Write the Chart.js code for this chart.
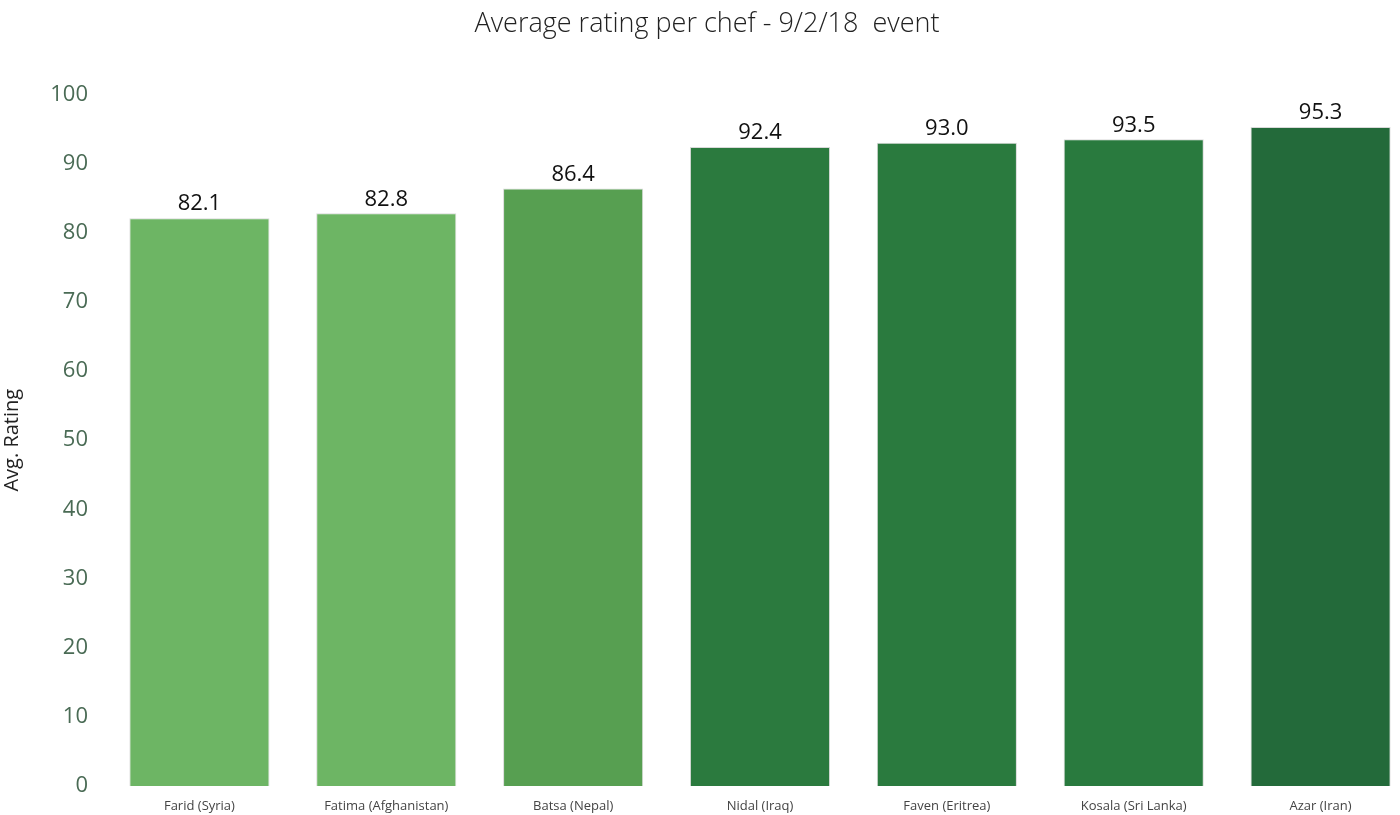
<!DOCTYPE html>
<html><head><meta charset="utf-8">
<script src="https://cdn.jsdelivr.net/npm/chart.js@4"></script>
<style>html,body{margin:0;padding:0;overflow:hidden;background:#fff}#w{width:1414px;height:815px}</style>
</head><body><div id="w"><canvas id="c"></canvas></div>
<script>
const chefs = ["Farid (Syria)","Fatima (Afghanistan)","Batsa (Nepal)","Nidal (Iraq)","Faven (Eritrea)","Kosala (Sri Lanka)","Azar (Iran)"];
const ratings = [82.1, 82.8, 86.4, 92.4, 93.0, 93.5, 95.3];
const barColors = ["#6db564","#6db564","#579f51","#2b7a3e","#2a7a3e","#297a3e","#236a3a"];
const yTicks = [0,10,20,30,40,50,60,70,80,90,100];

const labelsPlugin = {
  id:'vals',
  afterDatasetsDraw(chart){
    const ctx = chart.ctx, meta = chart.getDatasetMeta(0);
    ctx.save();
    ctx.font = '22px "Open Sans", sans-serif';
    ctx.fillStyle = '#111';
    ctx.textAlign = 'center'; ctx.textBaseline = 'bottom';
    meta.data.forEach((b,i)=>ctx.fillText(ratings[i].toFixed(1), b.x, b.y-3));
    ctx.restore();
  }
};
new Chart(document.getElementById('c'),{
  type:'bar',
  data:{labels:chefs,datasets:[{data:ratings,backgroundColor:barColors,borderColor:'rgba(0,0,0,0.15)',borderWidth:1,barPercentage:0.75,categoryPercentage:1}]},
  options:{
    responsive:true,maintainAspectRatio:false,animation:false,
    plugins:{legend:{display:false},tooltip:{enabled:false},
      title:{display:true,text:'Average rating per chef - 9/2/18  event',color:'#222',
        font:{family:'"Open Sans", sans-serif',size:27,weight:'300'},padding:{top:8,bottom:54},align:'center'}},
    scales:{
      x:{grid:{display:false},border:{display:false},
        ticks:{color:'#444',font:{family:'"Open Sans", sans-serif',size:13},maxRotation:0,padding:4},
        afterFit(s){s.height=29;}},
      y:{min:0,max:100,grid:{display:false},border:{display:false},
        afterBuildTicks(s){s.ticks=yTicks.map(v=>({value:v}));},
        ticks:{color:'#4a6b55',font:{family:'"Open Sans", sans-serif',size:22},padding:10},
        title:{display:true,text:'Avg. Rating',color:'#222',font:{family:'"Open Sans", sans-serif',size:20},padding:0},
        afterFit(s){s.width=106;}}
    }
  },
  plugins:[labelsPlugin]
});
</script></body></html>
